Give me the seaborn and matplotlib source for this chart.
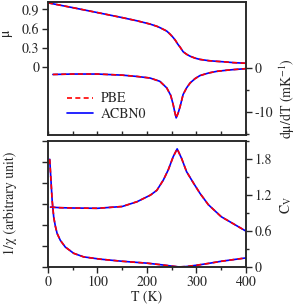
import numpy as np
import pandas as pd
import seaborn as sns
import matplotlib
matplotlib.use('Agg')
import matplotlib.pyplot as plt
from matplotlib import font_manager
from matplotlib.ticker import MultipleLocator, FixedLocator, NullFormatter

# valori (PBE si ACBN0 se suprapun)
T_mu = [0, 50, 100, 150, 180, 206, 220, 226, 235, 240, 247, 253, 258, 262, 267, 273,
        280, 287, 297, 307, 325, 341, 360, 374, 400]
mu = [1.00, 0.925, 0.848, 0.77, 0.72, 0.67, 0.635, 0.615, 0.58, 0.56, 0.51, 0.46, 0.41,
      0.36, 0.31, 0.24, 0.20, 0.17, 0.14, 0.12, 0.10, 0.09, 0.08, 0.07, 0.06]

T_dmu = [10, 50, 100, 150, 180, 206, 226, 240, 248, 253, 256, 259, 263, 267, 273, 280,
         287, 297, 307, 325, 341, 360, 374, 400]
dmu = [-1.55, -1.45, -1.45, -1.7, -2.0, -2.35, -3.1, -4.6, -6.3, -8.4, -10.0, -11.4,
       -10.3, -8.8, -6.1, -4.6, -3.5, -2.5, -1.8, -1.2, -0.84, -0.6, -0.45, -0.23]

T_chi = [3.6, 8.5, 11.7, 15, 18.5, 25, 35, 52, 72, 106, 150, 200, 230, 250, 265, 280,
         300, 325, 350, 375, 400]
inv_chi = [5.15, 3.18, 2.38, 1.95, 1.61, 1.28, 0.96, 0.66, 0.49, 0.38, 0.28, 0.19, 0.11,
           0.05, 0.01, 0.03, 0.09, 0.18, 0.28, 0.36, 0.44]

T_cv = [5, 25, 50, 100, 150, 180, 207, 220, 233, 243, 253, 261, 270, 280, 294, 307,
        324, 350, 375, 400]
cv = [1.0, 0.99, 0.985, 0.98, 1.01, 1.09, 1.2, 1.28, 1.45, 1.62, 1.84, 1.97, 1.81, 1.59,
      1.40, 1.23, 1.04, 0.84, 0.72, 0.6]

sns.set_style('ticks')
# font de tip Times (STIX vine cu matplotlib)
plt.rcParams['font.family'] = 'STIXGeneral'
plt.rcParams['mathtext.fontset'] = 'stix'
plt.rcParams['axes.unicode_minus'] = False
plt.rcParams['font.size'] = 10
plt.rcParams['axes.linewidth'] = 1.1

fig = plt.figure(figsize=(2.96, 3.06), dpi=100)
ax1 = fig.add_axes([0.162, 0.560, 0.669, 0.435])
ax3 = fig.add_axes([0.162, 0.127, 0.669, 0.412])
ax2 = ax1.twinx()
ax4 = ax3.twinx()

def doua_linii(ax, x, y):
    # ACBN0 linie albastra continua, PBE linie rosie punctata deasupra
    sns.lineplot(x=x, y=y, ax=ax, color='blue', lw=1.2)
    sns.lineplot(x=x, y=y, ax=ax, color='red', lw=1.2)
    ax.lines[-1].set_dashes([3, 2])

doua_linii(ax1, T_mu, mu)
doua_linii(ax2, T_dmu, dmu)
doua_linii(ax3, T_chi, inv_chi)
doua_linii(ax4, T_cv, cv)

# legenda in panoul de sus
h = ax2.lines
ax1.legend([h[1], h[0]], ['PBE', 'ACBN0'], loc='upper left', bbox_to_anchor=(0.096, 0.32),
           frameon=False, borderpad=0, borderaxespad=0, handlelength=1.9,
           handletextpad=0.5, labelspacing=0.15, fontsize=10)

for ax in (ax1, ax2, ax3, ax4):
    ax.set_xlim(0, 400)

ax1.set_ylim(-1.05, 1.02)
ax2.set_ylim(-15.2, 15.0)
ax3.set_ylim(0, 6.02)
ax4.set_ylim(0, 2.1)

# panoul de sus
ax1.xaxis.set_major_locator(MultipleLocator(50))
ax1.xaxis.set_major_formatter(NullFormatter())
ax1.tick_params(axis='x', direction='in', length=3, width=1)
ax1.yaxis.set_major_locator(FixedLocator([0, 0.3, 0.6, 0.9]))
ax1.set_yticklabels(['0', '0.3', '0.6', '0.9'])
ax1.tick_params(axis='y', direction='out', length=4, width=1, pad=2)
ax2.yaxis.set_major_locator(FixedLocator([0, -10]))
ax2.yaxis.set_minor_locator(FixedLocator([-5, -15]))
ax2.set_yticklabels(['0', '-10'])
ax2.tick_params(axis='y', which='both', direction='out', width=1, pad=2)
ax2.tick_params(axis='y', which='major', length=4)
ax2.tick_params(axis='y', which='minor', length=2.5)

# panoul de jos
ax3.xaxis.set_major_locator(MultipleLocator(100))
ax3.xaxis.set_minor_locator(MultipleLocator(50))
ax3.tick_params(axis='x', which='both', direction='out', width=1, pad=2)
ax3.tick_params(axis='x', which='major', length=4)
ax3.tick_params(axis='x', which='minor', length=2.5)
ax3.yaxis.set_major_locator(MultipleLocator(1))
ax3.yaxis.set_major_formatter(NullFormatter())
ax3.tick_params(axis='y', direction='out', length=4, width=1)
ax4.yaxis.set_major_locator(FixedLocator([0, 0.6, 1.2, 1.8]))
ax4.yaxis.set_minor_locator(MultipleLocator(0.3))
ax4.set_yticklabels(['0', '0.6', '1.2', '1.8'])
ax4.tick_params(axis='y', which='both', direction='out', width=1, pad=2)
ax4.tick_params(axis='y', which='major', length=4)
ax4.tick_params(axis='y', which='minor', length=2.5)

for ax in (ax1, ax2, ax3, ax4):
    for s in ax.spines.values():
        s.set_visible(True)
        s.set_linewidth(1.1)

ax1.set_xlabel('')
ax3.set_xlabel('T (K)', labelpad=1)
ax1.set_ylabel('μ')
ax1.yaxis.set_label_coords(-0.18, 0.76)
ax2.set_ylabel('dμ/dT (mK$^{-1}$)')
ax2.yaxis.set_label_coords(1.16, 0.27)
ax3.set_ylabel('1/χ (arbitrary unit)')
ax3.yaxis.set_label_coords(-0.155, 0.51)
ax4.set_ylabel('C$_{\\rm V}$')
ax4.yaxis.set_label_coords(1.165, 0.49)

fig.savefig('out.png', dpi=100)
